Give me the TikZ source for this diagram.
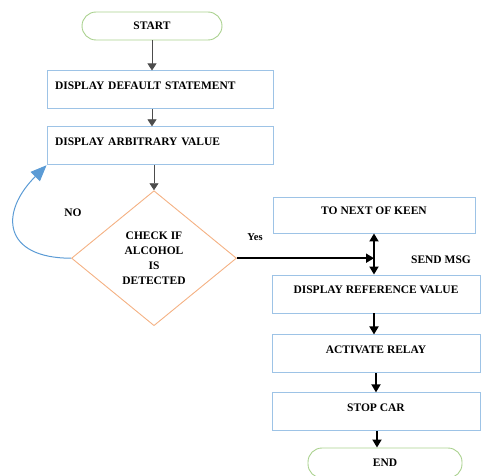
\documentclass[tikz,border=0pt]{standalone}
\usepackage{fontspec}
\setmainfont{Liberation Serif}
\usetikzlibrary{positioning, shapes.geometric, arrows.meta}

\definecolor{boxblue}{RGB}{157,195,230}
\definecolor{termgreen}{RGB}{169,209,142}
\definecolor{diaorange}{RGB}{244,177,131}
\definecolor{loopblue}{RGB}{91,155,213}

\tikzset{
  lbl/.style={font=\bfseries\fontsize{11.5}{13}\selectfont},
  terminal/.style={lbl, draw=termgreen, line width=0.9pt, rounded corners=14pt,
                   minimum width=140pt, minimum height=28pt},
  process/.style={lbl, draw=boxblue, line width=0.9pt, minimum height=38pt,
                  text depth=9pt},
  leftbox/.style={process, text width=210pt, align=left, inner sep=8pt},
  rightbox/.style={process, minimum width=208pt},
  decision/.style={lbl, diamond, draw=diaorange, line width=0.9pt, minimum width=165pt,
                   minimum height=135pt, inner sep=0pt, align=center},
  flow/.style={-{Triangle[length=7pt,width=9pt]}, line width=0.8pt},
  thickflow/.style={-{Triangle[length=8pt,width=9pt]}, line width=1.8pt},
}

\begin{document}
\begin{tikzpicture}[x=1pt, y=-1pt]
    \useasboundingbox (0,0) rectangle (482,476);

    \node[terminal] (st) at (152,26) {START};
    \node[leftbox, below=30pt of st, xshift=8pt] (dd) {DISPLAY DEFAULT STATEMENT};
    \node[leftbox, below=17pt of dd] (da) {DISPLAY ARBITRARY VALUE};
    \node[decision, below=25pt of da, xshift=-6pt, font=\bfseries\fontsize{11.5}{15}\selectfont] (chk) {CHECK IF\\ALCOHOL\\IS\\DETECTED};

    \node[rightbox, minimum width=202pt, minimum height=36pt] (nok) at (374,215) {TO NEXT OF KEEN};
    \node[rightbox] (drv) at (376,294) {DISPLAY REFERENCE VALUE};
    \node[rightbox, below=21pt of drv] (ar) {ACTIVATE RELAY};
    \node[rightbox, below=19pt of ar] (sc) {STOP CAR};
    \node[terminal, minimum width=154pt, minimum height=30pt] (en) at (385,463) {END};

    \node[lbl] (no) at (73,213) {NO};
    \node[lbl, font=\bfseries\fontsize{10.5}{12}\selectfont] (yes) at (255,237) {Yes};
    \node[lbl] (msg) at (441,260) {SEND MSG};

    \draw[flow, black!70] (st) -- (st |- dd.north);
    \draw[flow, black!70] (dd.south -| st) -- (da.north -| st);
    \draw[flow, black!70] (da.south -| chk) -- (chk.north);
    \draw[-{Triangle[length=16pt,width=13pt]}, loopblue, line width=1pt]
        (chk.west) to[out=180, in=225, looseness=1.8] (da.south west);
    \draw[thickflow] (chk.east) -- (nok.south |- chk.east);
    \draw[thickflow, {Triangle[length=8pt,width=9pt]}-{Triangle[length=8pt,width=9pt]}]
        (nok.south) -- (drv.north -| nok);
    \draw[thickflow] (drv.south -| nok) -- (ar.north -| nok);
    \draw[thickflow] (ar) -- (sc);
    \draw[thickflow] (sc.south) ++(1pt,0) coordinate (scb) (scb) -- (scb |- en.north);
\end{tikzpicture}
\end{document}
